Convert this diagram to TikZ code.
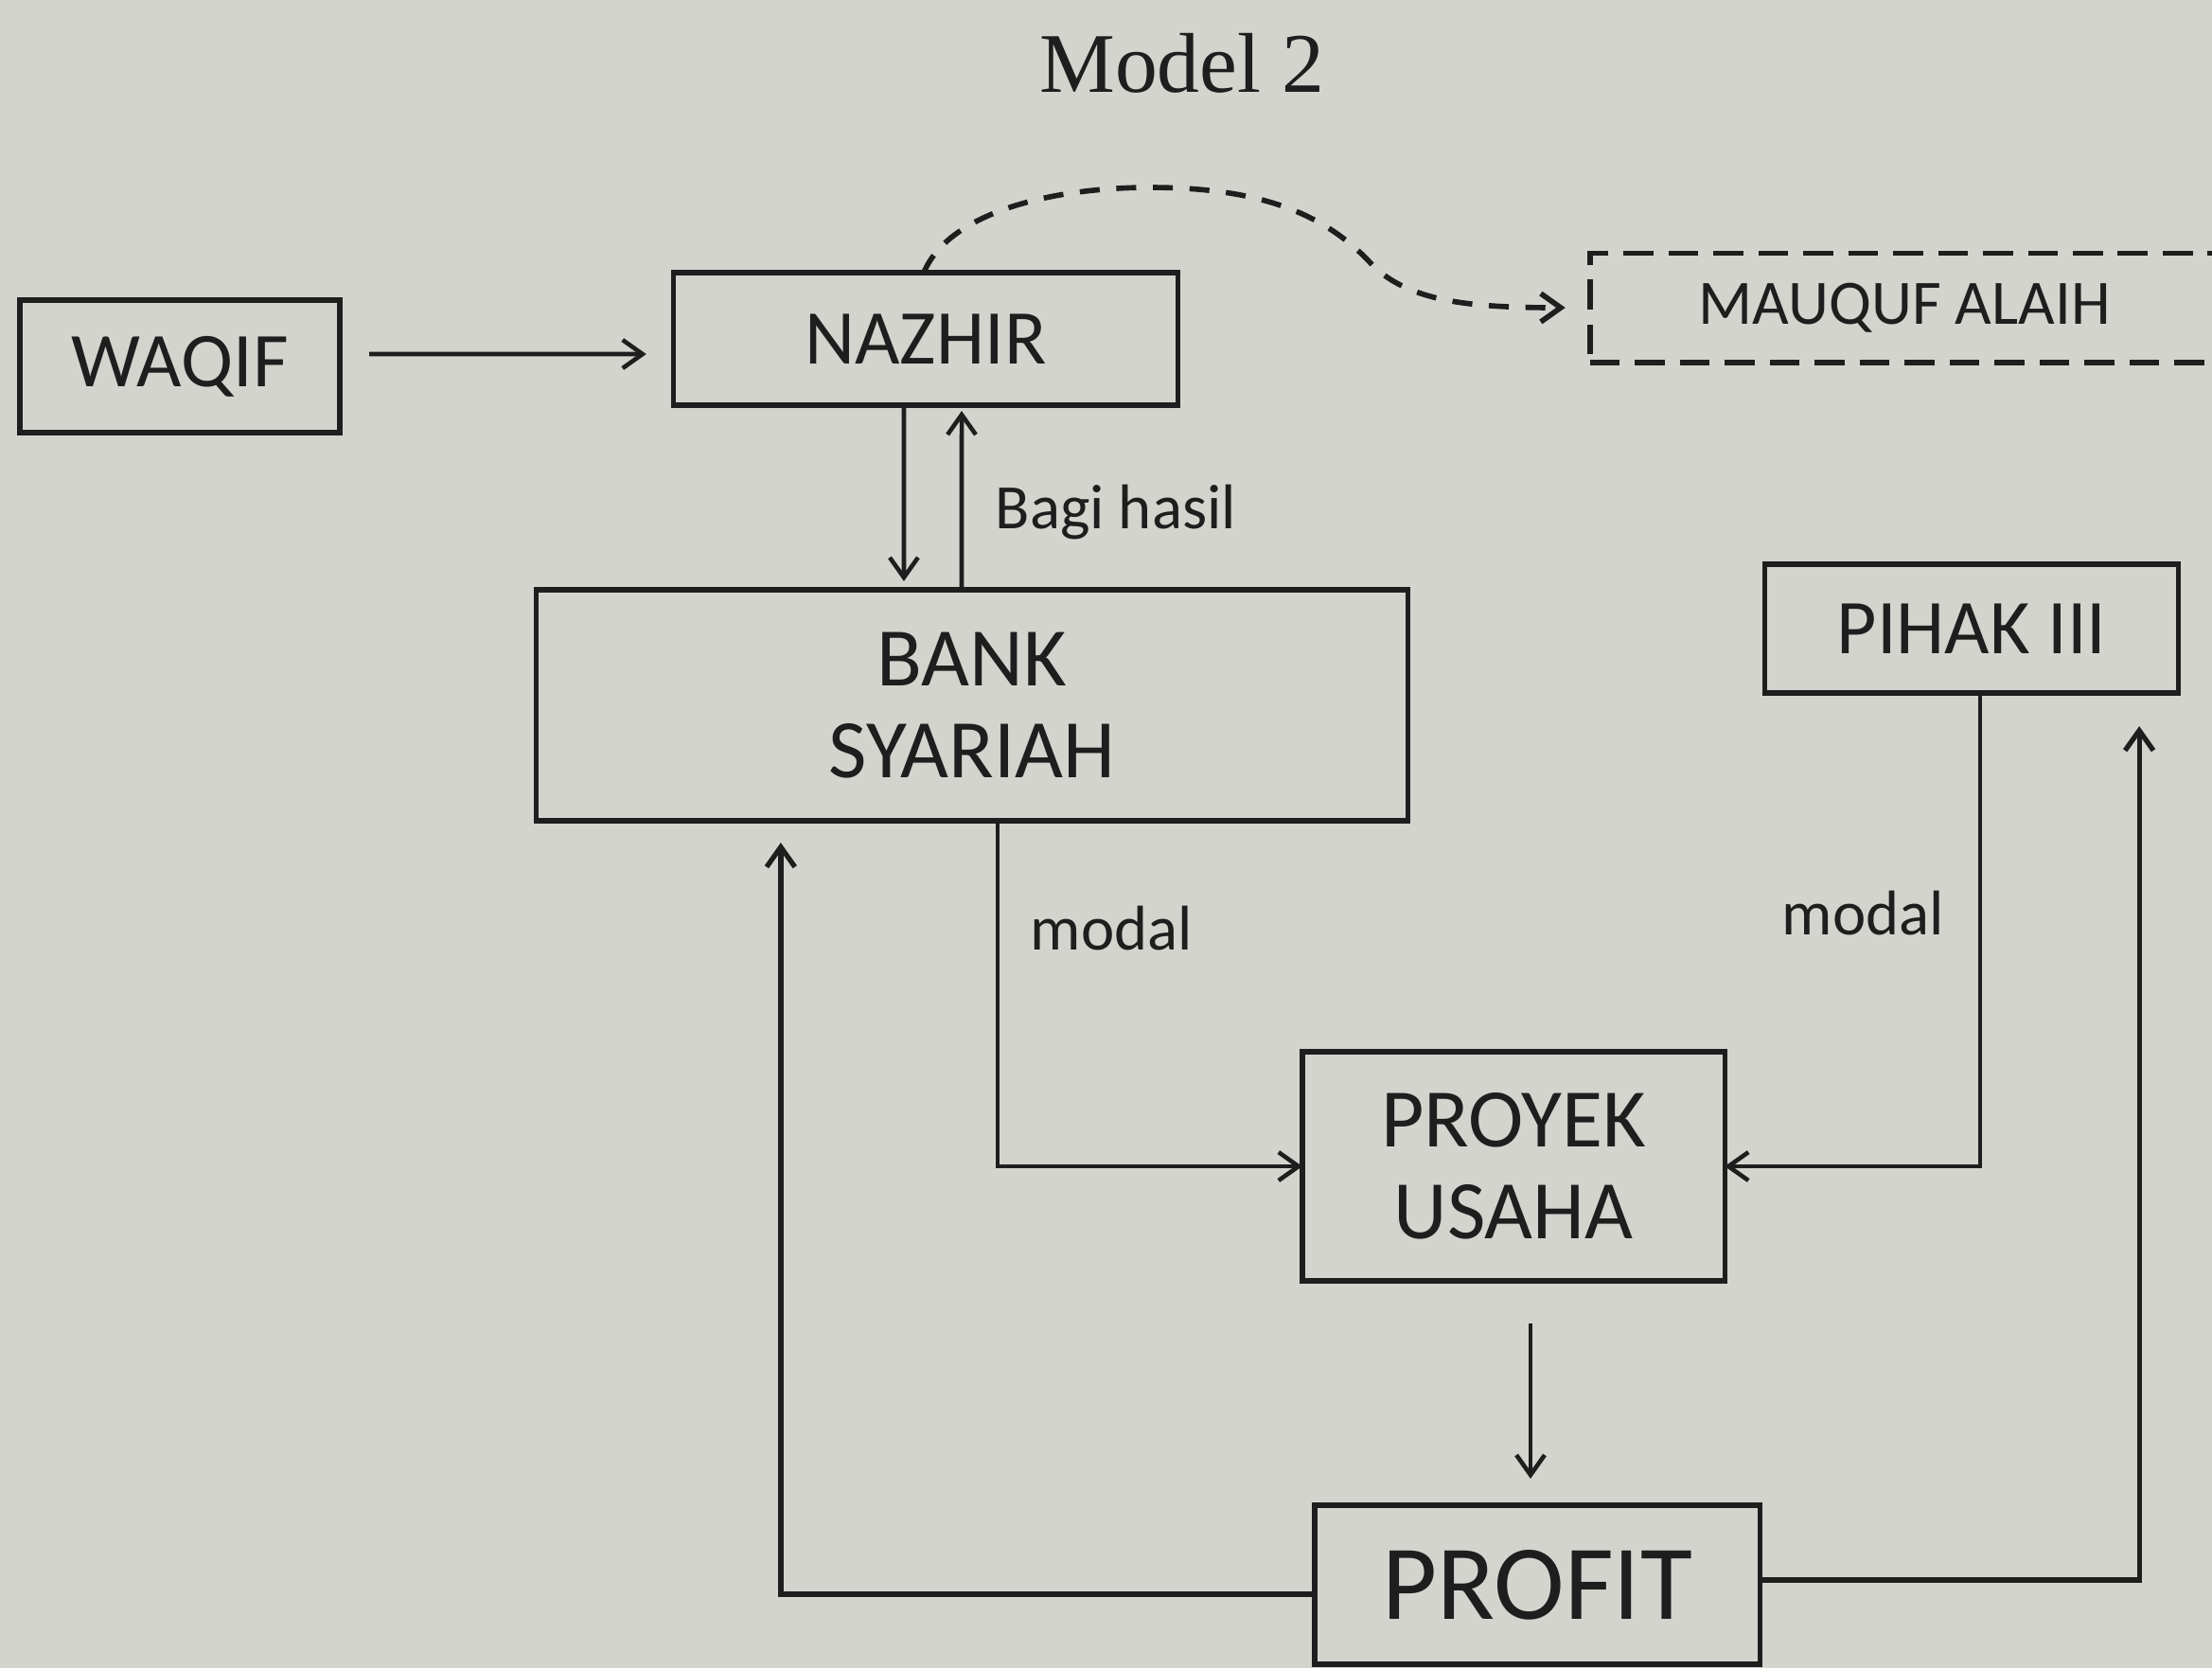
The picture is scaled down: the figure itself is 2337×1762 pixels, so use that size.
\documentclass[tikz,border=0pt]{standalone}
\usepackage{fontspec}
\setmainfont{Carlito}
\newfontfamily\titlefont{Liberation Serif}
\usetikzlibrary{arrows.meta,calc}
\definecolor{bgcol}{RGB}{212,212,207}
\definecolor{ink}{RGB}{30,30,30}
\begin{document}
\begin{tikzpicture}[x=0.01cm,y=-0.01cm,
  box/.style={draw=ink, line width=1.5pt, text=ink, inner sep=0pt, outer sep=0pt, align=center, font=\fontsize{23.3}{27.6}\selectfont},
  arr/.style={draw=ink, line width=1.3pt, -{Straight Barb[length=6pt,width=8.5pt]}},
  lbl/.style={text=ink, inner sep=0pt, font=\fontsize{19}{22}\selectfont, anchor=west}
]
\useasboundingbox (0,0) rectangle (2337,1762);
\fill[bgcol] (0,0) rectangle (2337,1762);

\node[text=ink, font=\titlefont\fontsize{25.5}{30}\selectfont] (title) at (1249,67) {Model 2};

\node[box, minimum width=3.38cm, minimum height=1.40cm] (waqif) at (190,387) {WAQIF};
\node[box, minimum width=5.32cm, minimum height=1.40cm] (nazhir) at (978,358) {NAZHIR};
\node[box, line width=1.7pt, dash pattern=on 9pt off 4.5pt, minimum width=6.64cm, minimum height=1.15cm, font=\fontsize{19}{22}\selectfont] (mauquf) at (2012,325) {MAUQUF ALAIH};
\node[box, minimum width=9.21cm, minimum height=2.44cm, font=\fontsize{25}{27.6}\selectfont] (bank) at (1027,745) {BANK\\SYARIAH};
\node[box, minimum width=4.37cm, minimum height=1.36cm] (pihak) at (2083,664) {PIHAK III};
\node[box, minimum width=4.46cm, minimum height=2.42cm, font=\fontsize{25}{27.6}\selectfont] (proyek) at (1599,1232) {PROYEK\\USAHA};
\node[box, minimum width=4.70cm, minimum height=1.68cm, font=\fontsize{32}{36}\selectfont] (profit) at (1624,1674) {PROFIT};

\node[lbl] (bagi) at (1051,541) {Bagi hasil};
\node[lbl] (modal1) at (1088,981) {modal};
\node[lbl] (modal2) at (1882,965) {modal};

\draw[arr, shorten <=0.31cm, shorten >=0.29cm] ([yshift=0.13cm]waqif.east) -- ([yshift=-0.16cm]nazhir.west);
\draw[arr, shorten >=0.09cm] ([xshift=-0.23cm]nazhir.south) -- ([xshift=-0.72cm]bank.north);
\draw[arr, shorten >=0.06cm] ([xshift=-0.11cm]bank.north) -- ([xshift=0.38cm]nazhir.south);
\draw[arr] ([xshift=0.27cm]bank.south) |- (proyek.west);
\draw[arr] ([xshift=0.09cm]pihak.south) |- (proyek.east);
\draw[arr, shorten <=0.45cm, shorten >=0.28cm] ([xshift=0.18cm]proyek.south) -- ([xshift=0.18cm]proyek.south |- profit.north);
\draw[arr, line width=1.5pt, shorten >=0.23cm] ([yshift=-0.1cm]profit.west) -| ([xshift=-2.02cm]bank.south);
\draw[arr, line width=1.5pt, shorten >=0.35cm] ([yshift=0.05cm]profit.east) -| ([xshift=1.77cm]pihak.south);

\coordinate (peak) at (1215,198);
\coordinate (dip) at (1450,280);
\draw[arr, line width=1.6pt, dash pattern=on 6pt off 5pt, shorten >=0.26cm] ([xshift=-0.02cm]nazhir.north) .. controls (1002,225) and (1110,198) .. (peak) .. controls (1330,198) and (1400,225) .. (dip) .. controls (1490,320) and (1560,325) .. (mauquf.west);
\end{tikzpicture}
\end{document}
